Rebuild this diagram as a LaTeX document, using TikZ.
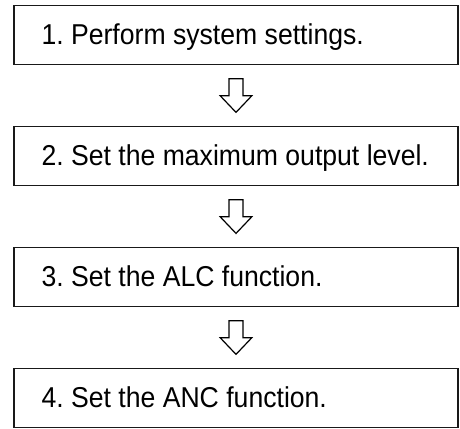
\documentclass[tikz,border=0pt]{standalone}
\usepackage{fontspec}
\setmainfont{Liberation Sans}
\usetikzlibrary{calc}
\frenchspacing
\begin{document}
\begin{tikzpicture}[x=1pt,y=1pt,
  stepbox/.style={draw=black!90, line width=1.3pt, rectangle, minimum width=444pt, minimum height=58.6pt, inner sep=0pt},
  steptext/.style={anchor=base west, inner sep=0pt, font=\fontsize{26.6}{30}\selectfont\frenchspacing},
  blockarrow/.style={draw=black, line width=1.2pt, fill=white, line join=miter}
]
\useasboundingbox (0,0) rectangle (460,-428);
\node[stepbox] (b1) at (236,-35) {};
\node[stepbox] (b2) at (236,-156.1) {};
\node[stepbox] (b3) at (236,-277.1) {};
\node[stepbox] (b4) at (236,-398) {};
\node[steptext] (t1) at ($(b1.west)+(28,-9.2)$) {\scalebox{1}[1.08]{1. Perform system settings.}};
\node[steptext] (t2) at ($(b2.west)+(28,-9)$) {\scalebox{1}[1.08]{2. Set the maximum output level.}};
\node[steptext] (t3) at ($(b3.west)+(28,-9)$) {\scalebox{1}[1.08]{3. Set the ALC function.}};
\node[steptext] (t4) at ($(b4.west)+(28,-9)$) {\scalebox{1}[1.08]{4. Set the ANC function.}};
\foreach \a/\b/\n in {b1/b2/m1, b2/b3/m2, b3/b4/m3}{
  \coordinate (\n) at ($(\a.south)!0.5!(\b.north)$);
  \draw[blockarrow] ($(\n)+(-7,16.8)$) -- ($(\n)+(7,16.8)$) -- ($(\n)+(7,-0.2)$) -- ($(\n)+(15.8,-0.2)$)
    -- ($(\n)+(0,-16.8)$) -- ($(\n)+(-15.8,-0.2)$) -- ($(\n)+(-7,-0.2)$) -- cycle;
}
\end{tikzpicture}
\end{document}
